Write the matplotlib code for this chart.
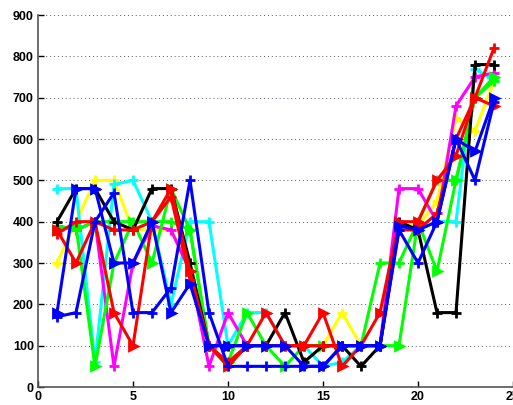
import matplotlib
matplotlib.use("Agg")
import matplotlib.pyplot as plt

x = list(range(1, 25))

black_plus = [400, 480, 480, 400, 380, 480, 480, 300, 100, 100, 100, 100, 180, 60, 100, 100, 50, 100, 400, 380, 180, 180, 780, 780]
red_tri = [380, 300, 400, 180, 100, 400, 480, 280, 100, 50, 100, 180, 100, 100, 180, 50, 100, 180, 400, 400, 500, 560, 700, 680]
red_plus = [370, 400, 400, 380, 380, 400, 460, 260, 100, 60, 100, 100, 100, 100, 100, 100, 100, 100, 380, 380, 420, 600, 700, 820]
yellow_plus = [300, 400, 500, 500, 380, 380, 380, 300, 100, 100, 100, 100, 100, 100, 100, 180, 100, 100, 390, 390, 450, 650, 620, 740]
cyan_plus = [480, 480, 60, 490, 500, 400, 200, 400, 400, 100, 180, 180, 100, 100, 50, 60, 100, 100, 390, 380, 400, 400, 770, 740]
green_tri = [380, 390, 50, 300, 400, 300, 480, 380, 100, 60, 180, 100, 50, 100, 100, 100, 100, 100, 100, 400, 280, 500, 700, 750]
green_plus = [390, 380, 400, 400, 400, 400, 400, 380, 100, 50, 100, 100, 100, 100, 100, 100, 100, 300, 300, 400, 500, 500, 700, 740]
magenta_plus = [390, 380, 400, 50, 300, 390, 380, 280, 50, 180, 100, 100, 100, 100, 100, 100, 100, 100, 480, 480, 400, 680, 750, 760]
blue_tri = [180, 480, 480, 300, 300, 400, 180, 250, 100, 100, 100, 100, 100, 50, 50, 100, 100, 100, 390, 380, 400, 600, 570, 700]
blue_plus = [170, 180, 400, 470, 180, 180, 240, 500, 180, 50, 50, 50, 50, 50, 50, 100, 100, 100, 380, 300, 400, 600, 500, 690]

series = [
    (yellow_plus, '#ffff00', '+'),
    (cyan_plus, '#00ffff', '+'),
    (magenta_plus, '#ff00ff', '+'),
    (green_plus, '#00ff00', '+'),
    (green_tri, '#00ff00', '>'),
    (black_plus, '#000000', '+'),
    (red_plus, '#ff0000', '+'),
    (red_tri, '#ff0000', '>'),
    (blue_plus, '#0000ff', '+'),
    (blue_tri, '#0000ff', '>'),
]

fig = plt.figure(figsize=(5.13, 4.05), dpi=100)
ax = fig.add_axes([38/513, 18/405, 1 - 38/513, (387-15)/405])
for vals, col, mk in series:
    ax.plot(x, vals, color=col, marker=mk, linewidth=2.2,
            markersize=(6 if mk == '>' else 7),
            markeredgewidth=2.0, markerfacecolor=col, markeredgecolor=col)

ax.set_xlim(0, 25)
ax.set_ylim(0, 900)
ax.set_xticks([0, 5, 10, 15, 20, 25])
ax.set_yticks(range(0, 901, 100))
ax.yaxis.grid(True, linestyle=(0, (1, 3)), color='#555566', linewidth=0.7)
ax.set_axisbelow(True)
ax.spines['top'].set_visible(False)
ax.spines['right'].set_visible(False)
ax.spines['left'].set_color('#555555')
ax.spines['bottom'].set_color('#555555')
ax.spines['left'].set_linewidth(1.2)
ax.spines['bottom'].set_linewidth(1.2)
ax.tick_params(direction='in', length=4, labelsize=9, width=1, pad=3)
for lab in ax.get_xticklabels() + ax.get_yticklabels():
    lab.set_fontweight('bold')
    lab.set_family('Liberation Sans')
fig.savefig('out.png', dpi=100)
